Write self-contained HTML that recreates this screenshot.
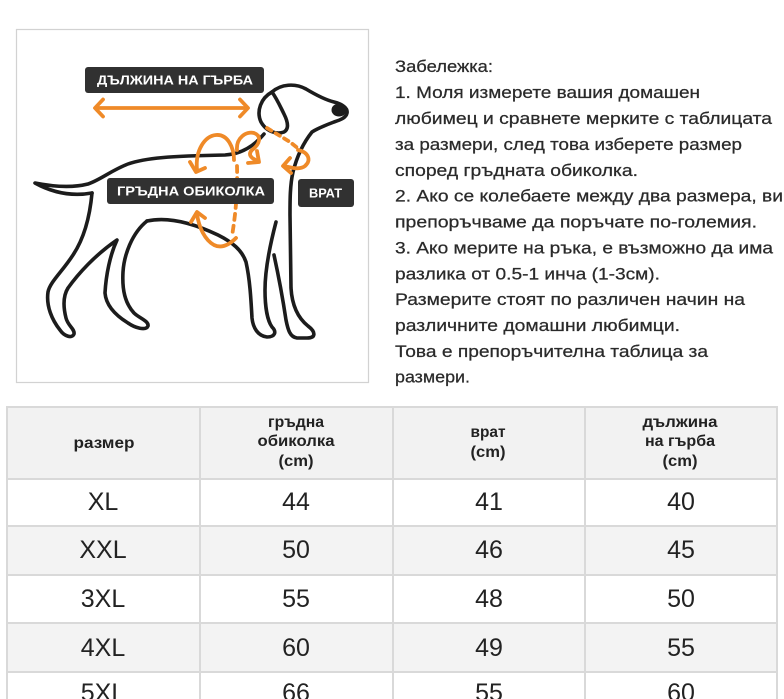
<!DOCTYPE html>
<html>
<head>
<meta charset="utf-8">
<style>
  html, body { margin: 0; padding: 0; background: #ffffff; }
  body { width: 784px; height: 699px; overflow: hidden; }
  svg { display: block; }
  .t { font-family: "Liberation Sans", "DejaVu Sans", sans-serif; }
</style>
</head>
<body>
<svg width="784" height="699" viewBox="0 0 784 699" xmlns="http://www.w3.org/2000/svg">
  <rect x="0" y="0" width="784" height="699" fill="#ffffff"/>

  <!-- Illustration frame -->
  <rect x="16.5" y="29.5" width="352" height="353" fill="#ffffff" stroke="#d2d2d2" stroke-width="1.2"/>

  <!-- Dog outline -->
  <g fill="none" stroke="#1c1c1c" stroke-width="3.6" stroke-linecap="round" stroke-linejoin="round">
    <path d="M92,193 C75,196 55,194 35,183 C55,187 72,188 88,184 C100,180 112,170 128,164 C145,158 170,156 225,155 C242,154 254,146 264,134"/>
    <path d="M272,92 C261,98 256,111 261,122 C266,131 276,135 284,132 C289,129 288,122 284,114 C280,106 277,99 272,92 Z"/>
    <path d="M272,92 C281,84 295,83 306,89 C316,95 326,100 334,102 C342,104 348,108 347,113 C346,118 340,120 334,122 C326,125 318,128 312,132 C304,142 297,156 293,172 C290,185 290,200 290,215 L291,288 C292,305 298,318 308,326 C316,332 316,338 307,338 L297,338 C290,337 288,330 286,320 C283,300 279,278 274,255"/>
    <path d="M147,221 C170,216 195,224 218,235 C232,242 242,250 246,262 C250,280 251,300 252,318 C253,328 258,336 267,337 C275,337 277,332 272,327 C267,320 265,305 265,290 C265,270 270,245 276,222"/>
    <path d="M92,193 C90,215 85,237 73,255 C62,272 50,282 48,292 C46,306 52,320 60,330 C64,336 72,339 74,334 C75,329 68,326 66,318 C63,306 63,296 68,288 C78,274 95,255 117,240 C110,255 106,275 105,293 C106,305 115,315 128,323 C135,328 146,331 148,326 C149,321 139,318 134,313 C125,303 122,290 123,272 C124,255 132,233 147,221"/>
  </g>
  <ellipse cx="339" cy="110" rx="7.5" ry="6.5" fill="#1c1c1c"/>

  <!-- Orange measurement marks -->
  <g fill="none" stroke="#ef8a28" stroke-width="3.8" stroke-linecap="round" stroke-linejoin="round">
    <path d="M96,108 L246,108"/>
    <path d="M103,99.5 L95,108 L103,116.5"/>
    <path d="M240,99.5 L248,108 L240,116.5"/>
    <path d="M197,170 C195,150 205,136 216,135 C228,134 234,148 234,160"/>
    <path d="M190,162 L196,172 L205,168"/>
    <path d="M237,150 C236,138 246,131 254,133 C262,136 260,144 252,150 C248,154 250,158 258,161"/>
    <path d="M248,163 L259,162 L257,151"/>
    <path d="M298,150 C308,152 312,160 305,166 C300,170 292,168 284,166"/>
    <path d="M290,158 L283,166 L291,173"/>
    <path d="M197,214 C199,228 205,240 214,245 C222,249 230,244 236,238"/>
    <path d="M191,222 L197,212 L205,218"/>
  </g>
  <g fill="none" stroke="#ef8a28" stroke-width="3.8" stroke-linecap="round">
    <path d="M237,166 Q238,200 232,236" stroke-dasharray="6,6"/>
    <path d="M267,128 L290,142 L300,150" stroke-dasharray="5,5"/>
  </g>

  <!-- Label boxes -->
  <rect x="85" y="67" width="179" height="26" rx="3" fill="#313131"/>
  <text class="t" x="97" y="84.5" font-size="12.5" font-weight="bold" fill="#ffffff" textLength="156" lengthAdjust="spacingAndGlyphs">ДЪЛЖИНА НА ГЪРБА</text>
  <rect x="107" y="178" width="167" height="26" rx="3" fill="#313131"/>
  <text class="t" x="117" y="195.5" font-size="12.5" font-weight="bold" fill="#ffffff" textLength="148" lengthAdjust="spacingAndGlyphs">ГРЪДНА ОБИКОЛКА</text>
  <rect x="298" y="179" width="56" height="28" rx="3" fill="#313131"/>
  <text class="t" x="309" y="197.5" font-size="12.5" font-weight="bold" fill="#ffffff" textLength="33" lengthAdjust="spacingAndGlyphs">ВРАТ</text>

  <!-- Notes text -->
  <g class="t" font-size="17" fill="#2a2a2a" stroke="#2a2a2a" stroke-width="0.25">
    <text x="395" y="72" textLength="98" lengthAdjust="spacingAndGlyphs">Забележка:</text>
    <text x="395" y="98" textLength="305" lengthAdjust="spacingAndGlyphs">1. Моля измерете вашия домашен</text>
    <text x="395" y="124" textLength="377" lengthAdjust="spacingAndGlyphs">любимец и сравнете мерките с таблицата</text>
    <text x="395" y="150" textLength="347" lengthAdjust="spacingAndGlyphs">за размери, след това изберете размер</text>
    <text x="395" y="176" textLength="243" lengthAdjust="spacingAndGlyphs">според гръдната обиколка.</text>
    <text x="395" y="201.5" textLength="388" lengthAdjust="spacingAndGlyphs">2. Ако се колебаете между два размера, ви</text>
    <text x="395" y="227.5" textLength="362" lengthAdjust="spacingAndGlyphs">препоръчваме да поръчате по-големия.</text>
    <text x="395" y="253.5" textLength="378" lengthAdjust="spacingAndGlyphs">3. Ако мерите на ръка, е възможно да има</text>
    <text x="395" y="279.5" textLength="265" lengthAdjust="spacingAndGlyphs">разлика от 0.5-1 инча (1-3см).</text>
    <text x="395" y="305" textLength="350" lengthAdjust="spacingAndGlyphs">Размерите стоят по различен начин на</text>
    <text x="395" y="331" textLength="285" lengthAdjust="spacingAndGlyphs">различните домашни любимци.</text>
    <text x="395" y="357" textLength="313" lengthAdjust="spacingAndGlyphs">Това е препоръчителна таблица за</text>
    <text x="395" y="382.5" textLength="75" lengthAdjust="spacingAndGlyphs">размери.</text>
  </g>

  <!-- Table backgrounds -->
  <rect x="7" y="407" width="770" height="72" fill="#f2f2f2"/>
  <rect x="7" y="479" width="770" height="47" fill="#ffffff"/>
  <rect x="7" y="526" width="770" height="49" fill="#f3f3f3"/>
  <rect x="7" y="575" width="770" height="48" fill="#ffffff"/>
  <rect x="7" y="623" width="770" height="49" fill="#f3f3f3"/>
  <rect x="7" y="672" width="770" height="30" fill="#ffffff"/>

  <!-- Table grid -->
  <g stroke="#d9d9d9" stroke-width="2" fill="none">
    <path d="M7,407 L777,407"/>
    <path d="M7,479 L777,479"/>
    <path d="M7,526 L777,526"/>
    <path d="M7,575 L777,575"/>
    <path d="M7,623 L777,623"/>
    <path d="M7,672 L777,672"/>
    <path d="M7,406 L7,699"/>
    <path d="M200,406 L200,699"/>
    <path d="M393,406 L393,699"/>
    <path d="M585,406 L585,699"/>
    <path d="M777,406 L777,699"/>
  </g>

  <!-- Header text -->
  <g class="t" font-size="16" font-weight="bold" fill="#222222" text-anchor="middle">
    <text x="104" y="448" textLength="61" lengthAdjust="spacingAndGlyphs">размер</text>
    <text x="296" y="427" textLength="56" lengthAdjust="spacingAndGlyphs">гръдна</text>
    <text x="296" y="446" textLength="77" lengthAdjust="spacingAndGlyphs">обиколка</text>
    <text x="296" y="466" textLength="35" lengthAdjust="spacingAndGlyphs">(cm)</text>
    <text x="488" y="437" textLength="35" lengthAdjust="spacingAndGlyphs">врат</text>
    <text x="488" y="457" textLength="35" lengthAdjust="spacingAndGlyphs">(cm)</text>
    <text x="680" y="427" textLength="75" lengthAdjust="spacingAndGlyphs">дължина</text>
    <text x="680" y="446" textLength="70" lengthAdjust="spacingAndGlyphs">на гърба</text>
    <text x="680" y="466" textLength="35" lengthAdjust="spacingAndGlyphs">(cm)</text>
  </g>

  <!-- Body text -->
  <g class="t" font-size="25" fill="#222222" text-anchor="middle">
    <text x="103" y="510">XL</text>
    <text x="296" y="510">44</text>
    <text x="489" y="510">41</text>
    <text x="681" y="510">40</text>

    <text x="103" y="558">XXL</text>
    <text x="296" y="558">50</text>
    <text x="489" y="558">46</text>
    <text x="681" y="558">45</text>

    <text x="103" y="607">3XL</text>
    <text x="296" y="607">55</text>
    <text x="489" y="607">48</text>
    <text x="681" y="607">50</text>

    <text x="103" y="656">4XL</text>
    <text x="296" y="656">60</text>
    <text x="489" y="656">49</text>
    <text x="681" y="656">55</text>

    <text x="103" y="701">5XL</text>
    <text x="296" y="701">66</text>
    <text x="489" y="701">55</text>
    <text x="681" y="701">60</text>
  </g>
</svg>
</body>
</html>
